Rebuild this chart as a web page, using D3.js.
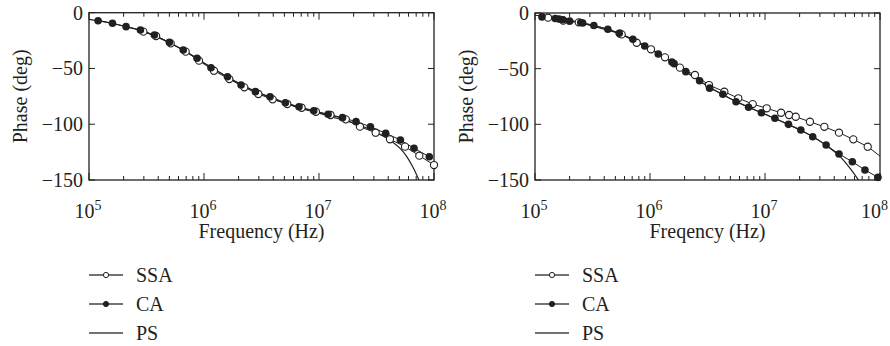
<!DOCTYPE html>
<html>
<head>
<meta charset="utf-8">
<script src="https://cdn.jsdelivr.net/npm/d3@7"></script>
<style>
  body { margin: 0; background: #fff; }
  svg text { font-family: "Liberation Serif", "Times New Roman", serif; fill: #231f20; }
</style>
</head>
<body>
<div id="wrapper"></div>
<script>
// frequency (Hz), phase (deg)
const leftSSA = [
  [2.97e5, -17], [3.83e5, -20.9], [5.13e5, -27.5], [6.93e5, -34.9], [9.05e5, -43],
  [1.22e6, -52], [1.66e6, -59.5], [2.24e6, -66.9], [2.97e6, -72.9], [3.95e6, -77.7],
  [5.3e6, -81.9], [7.06e6, -85.2], [9.4e6, -88.8], [1.26e7, -91.7], [1.71e7, -95.6],
  [2.27e7, -102.2], [3.11e7, -107.6], [4.14e7, -113.5], [5.6e7, -120.1], [7.45e7, -128.2],
  [1.0e8, -136.6]
]
const leftCA = [
  [1.2e5, -7.2], [1.6e5, -9.5], [2.1e5, -12.5], [2.8e5, -15.5], [3.7e5, -20],
  [5.0e5, -26.6], [6.6e5, -33.4], [8.7e5, -40.9], [1.15e6, -49.3], [1.6e6, -57.4],
  [2.1e6, -64.8], [2.8e6, -70.8], [3.75e6, -75.3], [5.1e6, -80.7], [6.7e6, -84.3],
  [9.0e6, -87.9], [1.2e7, -91.1], [1.6e7, -94.1], [2.1e7, -97.7], [2.8e7, -102.2],
  [3.8e7, -108.1], [5.1e7, -114.1], [6.7e7, -121.6], [9.1e7, -129.1]
]
const leftPS = [
  [1e5, -6], [1.5e5, -9], [2e5, -12], [3e5, -17], [5e5, -27], [7e5, -35],
  [1e6, -45], [1.5e6, -56], [2e6, -63], [3e6, -72], [5e6, -81], [7e6, -86],
  [1e7, -90], [1.25e7, -93], [1.8e7, -97.5], [2.4e7, -102], [3e7, -106],
  [4.1e7, -114], [5e7, -121], [5.8e7, -129], [6.6e7, -139], [7.4e7, -150]
]

const rightSSA = [
  [1.3e5, -4.2], [1.76e5, -6.9], [2.4e5, -8.4], [5.5e5, -18.6], [5.67e5, -19.2],
  [7.66e5, -26.7], [1.02e6, -32.6], [1.35e6, -39.8], [1.82e6, -49.1], [2.46e6, -55.7],
  [3.26e6, -64.7], [4.43e6, -70.7], [5.86e6, -76.6], [7.82e6, -81.8], [1.035e7, -85.6],
  [1.38e7, -89.6], [1.62e7, -91.6], [1.85e7, -93.2], [2.46e7, -97.7], [3.28e7, -102.2],
  [4.4e7, -107.5], [5.86e7, -113.5], [7.82e7, -120.1]
]
const rightSSAEnd = [1e8, -128.5]
const rightCA = [
  [1.15e5, -3.5], [1.5e5, -5.0], [1.62e5, -5.5], [1.75e5, -6.0], [2.0e5, -7.3],
  [2.5e5, -8.5], [2.6e5, -9.0], [3.25e5, -11.2], [4.3e5, -14.6], [5.4e5, -18.2],
  [7.1e5, -23.6], [9.0e5, -29.6], [1.18e6, -36.8], [1.55e6, -44.0], [1.62e6, -45.5],
  [2.05e6, -52.7], [2.7e6, -60.8], [3.3e6, -67.5], [4.3e6, -73], [5.6e6, -79.7],
  [7.2e6, -84.7], [9.3e6, -89.6], [1.22e7, -94.6], [1.6e7, -100], [2.05e7, -105.1],
  [2.6e7, -111.1], [3.4e7, -118.6], [4.4e7, -126.7], [5.75e7, -133.6], [7.4e7, -141],
  [9.6e7, -147.6]
]
const rightPS = [
  [1e5, -2], [2e5, -6.5], [3e5, -10.5], [5e5, -17], [7e5, -23.5], [1e6, -32],
  [1.5e6, -43], [2e6, -52], [3e6, -64], [5e6, -77], [7e6, -84], [1e7, -91],
  [1.5e7, -99], [2e7, -105], [2.6e7, -111], [3.3e7, -118], [4.5e7, -129],
  [5.5e7, -139.5], [6.5e7, -150]
]

const yTicks = [0, -50, -100, -150]
const xMajor = [1e5, 1e6, 1e7, 1e8]
const xMajorExp = ["5", "6", "7", "8"]
const legendNames = ["SSA", "CA", "PS"]
const xTitles = ["Frequency (Hz)", "Freqency (Hz)"]
const yTitle = "Phase (deg)"

const width = 890, height = 346
const ink = "#231f20"

const svg = d3.select("#wrapper").append("svg")
  .attr("width", width)
  .attr("height", height)

const panels = [
  { left: 89, right: 434, top: 12.7, bottom: 180, ssa: leftSSA, ssaEnd: null, ca: leftCA, ps: leftPS, title: xTitles[0] },
  { left: 535, right: 880, top: 13, bottom: 180, ssa: rightSSA, ssaEnd: rightSSAEnd, ca: rightCA, ps: rightPS, title: xTitles[1] }
]

panels.forEach((p, i) => {
  const x = d3.scaleLog().domain([1e5, 1e8]).range([p.left, p.right])
  const y = d3.scaleLinear().domain([-150, 0]).range([p.bottom, p.top])
  const g = svg.append("g")

  const clipId = "clip" + i
  g.append("clipPath").attr("id", clipId)
    .append("rect")
    .attr("x", p.left).attr("y", p.top)
    .attr("width", p.right - p.left).attr("height", p.bottom - p.top)

  // frame
  g.append("rect")
    .attr("x", p.left).attr("y", p.top)
    .attr("width", p.right - p.left).attr("height", p.bottom - p.top)
    .attr("fill", "none").attr("stroke", ink).attr("stroke-width", 1.3)

  // x ticks, inward on top and bottom
  x.ticks().forEach(t => {
    const e = Math.log10(t)
    const major = Math.abs(e - Math.round(e)) < 1e-9
    const len = major ? 7 : 4
    g.append("line").attr("x1", x(t)).attr("x2", x(t))
      .attr("y1", p.top).attr("y2", p.top + len)
      .attr("stroke", ink).attr("stroke-width", 1)
    g.append("line").attr("x1", x(t)).attr("x2", x(t))
      .attr("y1", p.bottom).attr("y2", p.bottom - len)
      .attr("stroke", ink).attr("stroke-width", 1)
  })

  // y ticks, inward on left and right
  yTicks.forEach(t => {
    g.append("line").attr("x1", p.left).attr("x2", p.left + 6)
      .attr("y1", y(t)).attr("y2", y(t)).attr("stroke", ink).attr("stroke-width", 1)
    g.append("line").attr("x1", p.right).attr("x2", p.right - 6)
      .attr("y1", y(t)).attr("y2", y(t)).attr("stroke", ink).attr("stroke-width", 1)
    g.append("text")
      .attr("x", p.left - 6).attr("y", y(t) + 7)
      .attr("text-anchor", "end")
      .style("font-size", "20px")
      .text(t < 0 ? "\u2212" + Math.abs(t) : t)
  })

  // x tick labels 10^n, kept inside the page at the right edge
  xMajor.forEach((t, k) => {
    const lab = g.append("text")
      .attr("x", x(t)).attr("y", 218)
      .attr("text-anchor", "middle")
      .style("font-size", "20px")
    lab.append("tspan").text("10")
    lab.append("tspan").attr("dy", -8).style("font-size", "14px").text(xMajorExp[k])
    const w = lab.node().getComputedTextLength()
    const cx = Math.min(x(t) - 1, width - 2 - w / 2)
    lab.attr("x", cx)
  })

  g.append("text")
    .attr("x", (p.left + p.right) / 2).attr("y", 238)
    .attr("text-anchor", "middle")
    .style("font-size", "20px")
    .text(p.title)

  g.append("text")
    .attr("transform", `translate(${p.left - 62},${(p.top + p.bottom) / 2}) rotate(-90)`)
    .attr("text-anchor", "middle")
    .style("font-size", "20px")
    .text(yTitle)

  const line = d3.line().x(d => x(d[0])).y(d => y(d[1]))
  const smooth = d3.line().x(d => x(d[0])).y(d => y(d[1])).curve(d3.curveMonotoneX)

  const data = g.append("g").attr("clip-path", `url(#${clipId})`)

  data.append("path").datum(p.ps)
    .attr("d", smooth).attr("fill", "none").attr("stroke", ink).attr("stroke-width", 1.2)

  const ssaLine = p.ssaEnd ? p.ssa.concat([p.ssaEnd]) : p.ssa
  data.append("path").datum(ssaLine)
    .attr("d", line).attr("fill", "none").attr("stroke", ink).attr("stroke-width", 1)
  data.append("path").datum(p.ca)
    .attr("d", line).attr("fill", "none").attr("stroke", ink).attr("stroke-width", 1)

  g.selectAll(".ssa").data(p.ssa).enter().append("circle")
    .attr("class", "ssa")
    .attr("cx", d => x(d[0])).attr("cy", d => y(d[1])).attr("r", 3.6)
    .attr("fill", "#fff").attr("stroke", ink).attr("stroke-width", 1.1)
  g.selectAll(".ca").data(p.ca).enter().append("circle")
    .attr("class", "ca")
    .attr("cx", d => x(d[0])).attr("cy", d => y(d[1])).attr("r", 3.8)
    .attr("fill", ink)

  // legend
  const lg = g.append("g")
  legendNames.forEach((name, k) => {
    const cy = 275 + k * 29
    lg.append("line").attr("x1", p.left).attr("x2", p.left + 34)
      .attr("y1", cy).attr("y2", cy).attr("stroke", "#444").attr("stroke-width", 1.3)
    if (k < 2) {
      lg.append("circle").attr("cx", p.left + 17).attr("cy", cy).attr("r", 2.6)
        .attr("fill", k === 0 ? "#fff" : ink).attr("stroke", ink).attr("stroke-width", 1)
    }
    lg.append("text").attr("x", p.left + 47).attr("y", cy + 7)
      .style("font-size", "20px").text(name)
  })
})
</script>
</body>
</html>
